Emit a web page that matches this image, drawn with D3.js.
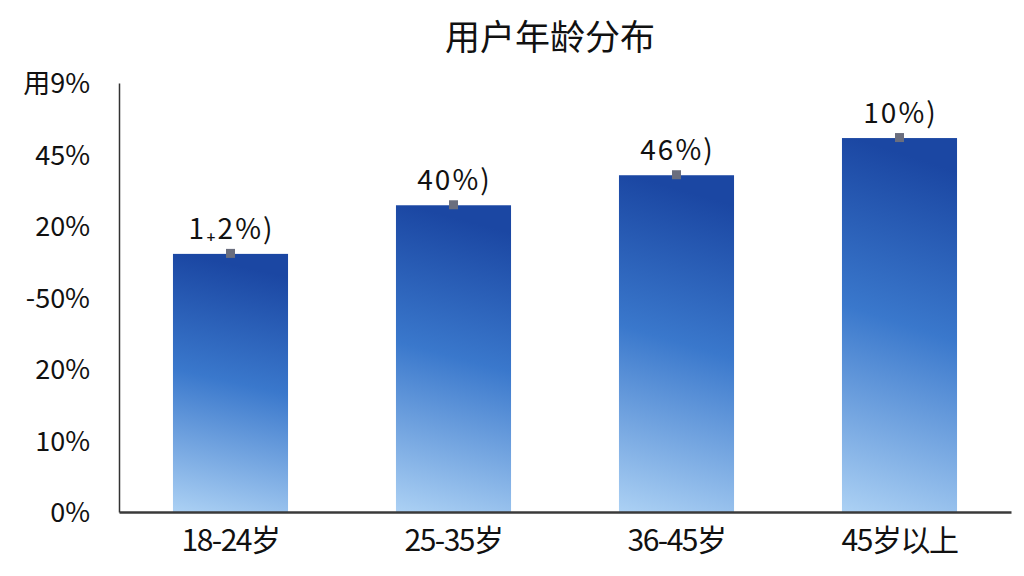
<!DOCTYPE html>
<html>
<head>
<meta charset="utf-8">
<script src="https://cdn.jsdelivr.net/npm/d3@7"></script>
<style>
  body { margin: 0; background: #fff; }
  text { font-family: "Noto Sans CJK SC", "Noto Sans", sans-serif; fill: #111; }
</style>
</head>
<body>
<div id="chart"></div>
<script>
// data
var ageGroups = ["18-24岁", "25-35岁", "36-45岁", "45岁以上"];
var shares = [36.1, 42.9, 47.1, 52.3];
var valueLabels = ["1₊2%)", "40%)", "46%)", "10%)"];
var tickValues = [0, 10, 20, 30, 40, 50, 60];
var tickLabels = ["0%", "10%", "20%", "-50%", "20%", "45%", "用9%"];

var W = 1024, H = 576;
var margin = {top: 83, right: 13, bottom: 64, left: 119};
var width = W - margin.left - margin.right,
    height = H - margin.top - margin.bottom;

var svg = d3.select("#chart").append("svg")
    .attr("width", W)
    .attr("height", H);

var defs = svg.append("defs");
var grad = defs.append("linearGradient")
    .attr("id", "barGrad")
    .attr("x1", "0.1").attr("y1", "0")
    .attr("x2", "0").attr("y2", "1");
grad.append("stop").attr("offset", "0%").attr("stop-color", "#1b47a3");
grad.append("stop").attr("offset", "45%").attr("stop-color", "#3a78cc");
grad.append("stop").attr("offset", "100%").attr("stop-color", "#acd1f4");

var g = svg.append("g")
    .attr("transform", "translate(" + margin.left + "," + margin.top + ")");

var x = d3.scaleBand()
    .domain(ageGroups)
    .range([0, width])
    .paddingInner(0.484)
    .paddingOuter(0.242);

var y = d3.scaleLinear()
    .domain([0, 60])
    .range([height, 0]);

// title
svg.append("text")
    .attr("x", 550)
    .attr("y", 50)
    .attr("text-anchor", "middle")
    .style("font-size", "35px")
    .text("用户年龄分布");

// bars
g.selectAll("rect.bar")
    .data(shares)
    .enter().append("rect")
    .attr("class", "bar")
    .attr("x", (d, i) => x(ageGroups[i]))
    .attr("y", d => y(d))
    .attr("width", x.bandwidth())
    .attr("height", d => height - y(d))
    .style("fill", "url(#barGrad)");

// little markers on bar tops
g.selectAll("rect.marker")
    .data(shares)
    .enter().append("rect")
    .attr("class", "marker")
    .attr("x", (d, i) => x(ageGroups[i]) + x.bandwidth() / 2 - 4.5)
    .attr("y", d => y(d) - 5)
    .attr("width", 9)
    .attr("height", 9)
    .style("fill", "#6a6e7e");

// value labels
g.selectAll("text.val")
    .data(shares)
    .enter().append("text")
    .attr("class", "val")
    .attr("x", (d, i) => x(ageGroups[i]) + x.bandwidth() / 2 + 1)
    .attr("y", d => y(d) - 15)
    .attr("text-anchor", "middle")
    .style("font-size", "28px")
    .style("letter-spacing", "2px")
    .text((d, i) => valueLabels[i]);

// y axis
var yAxis = g.append("g")
    .call(d3.axisLeft(y)
        .tickValues(tickValues)
        .tickSize(0)
        .tickPadding(29)
        .tickFormat((d, i) => tickLabels[i]));
yAxis.select(".domain")
    .attr("stroke", "#333")
    .attr("stroke-width", 1.5);
yAxis.selectAll("text")
    .style("font-size", "27px")
    .style("font-family", "\"Noto Sans CJK SC\", sans-serif")
    .attr("fill", "#111")
    .attr("dy", "0.36em");

// x axis
var xAxis = g.append("g")
    .attr("transform", "translate(0," + height + ")")
    .call(d3.axisBottom(x).tickSize(0).tickPadding(18));
xAxis.select(".domain")
    .attr("stroke", "#3a3a3a")
    .attr("stroke-width", 2.5);
xAxis.selectAll("text")
    .style("font-size", "30px")
    .style("font-family", "\"Noto Sans CJK SC\", sans-serif")
    .style("letter-spacing", "-1.5px")
    .attr("fill", "#111");
</script>
</body>
</html>
